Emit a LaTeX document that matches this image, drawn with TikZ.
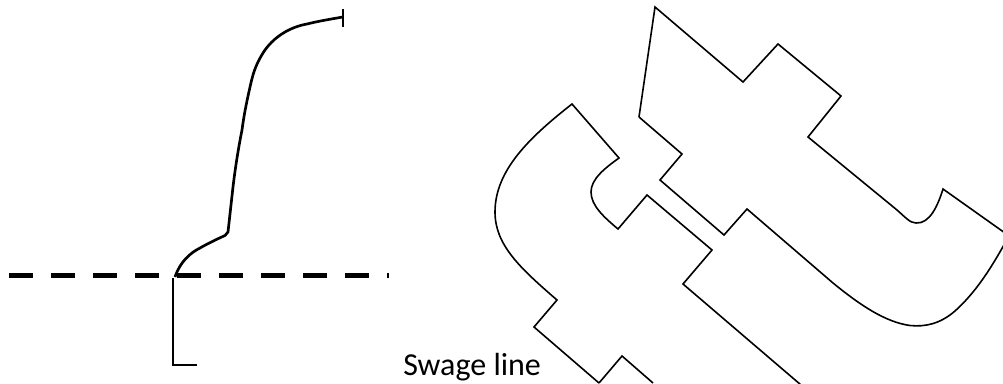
\documentclass[tikz,border=0pt]{standalone}
\usepackage{fontspec}
\setmainfont{Carlito}
\tikzset{
  dashline/.style={line width=4.1pt,dash pattern=on 18pt off 13.5pt},
  profile/.style={line width=2pt,line join=round},
  outline/.style={line width=1.2pt,line join=miter},
  lbl/.style={inner sep=0pt,anchor=base west,font=\fontsize{24}{26}\selectfont}
}
\begin{document}
\begin{tikzpicture}[x=0.75pt,y=-0.75pt]
\useasboundingbox (0,0) rectangle (1003,383);
\clip (0,0) rectangle (1003,383);
% dashed line
\draw[dashline] (9.3,275.5) -- (389,275.5);
% left profile
\draw[profile] (343,17) .. controls (325,20) and (315,22) .. (307,24)
  .. controls (290,27) and (273,37) .. (263,53)
  .. controls (255,66) and (253,74) .. (250,87)
  .. controls (246,105) and (244,115) .. (242,130)
  .. controls (238,150) and (235,170) .. (233,187)
  -- (228,232) -- (225,235.5)
  .. controls (215,240) and (207,244) .. (200,248)
  .. controls (190,253) and (180,262) .. (175,277);
\draw[profile] (343,9) -- (343,27);
\draw[profile,line join=miter] (173,278) -- (173,365) -- (196.5,365);
% upper right outline
\draw[outline] (639,117) -- (655,7) -- (743,82) -- (778,44) -- (841,96) -- (808,137)
  -- (897,210) .. controls (905,217) and (910,223) .. (916,223)
  .. controls (930,224) and (938,205) .. (943,189)
  -- (1005,233);
\draw[outline] (1005,243) .. controls (990,270) and (975,293) .. (955,311)
  .. controls (940,324) and (925,327) .. (910,325.5)
  .. controls (885,322) and (860,305) .. (833,283)
  -- (747,209) -- (724,235) -- (660,180) -- (682,154) -- (639,117);
% lower right outline
\draw[outline] (653,383) -- (622,356) -- (599,383);
\draw[outline] (599,383) -- (534,327) -- (557,300)
  .. controls (520,268) and (495,245) .. (495,212)
  .. controls (495,170) and (530,137) .. (572,104)
  -- (619,158) .. controls (605,168) and (591,179) .. (591,192)
  .. controls (591,206) and (605,218) .. (618,229)
  -- (647,195) -- (712,250) -- (683,284) -- (801,385);
% label
\node[lbl] (swage) at (403,375) {Swage line};
\end{tikzpicture}
\end{document}
